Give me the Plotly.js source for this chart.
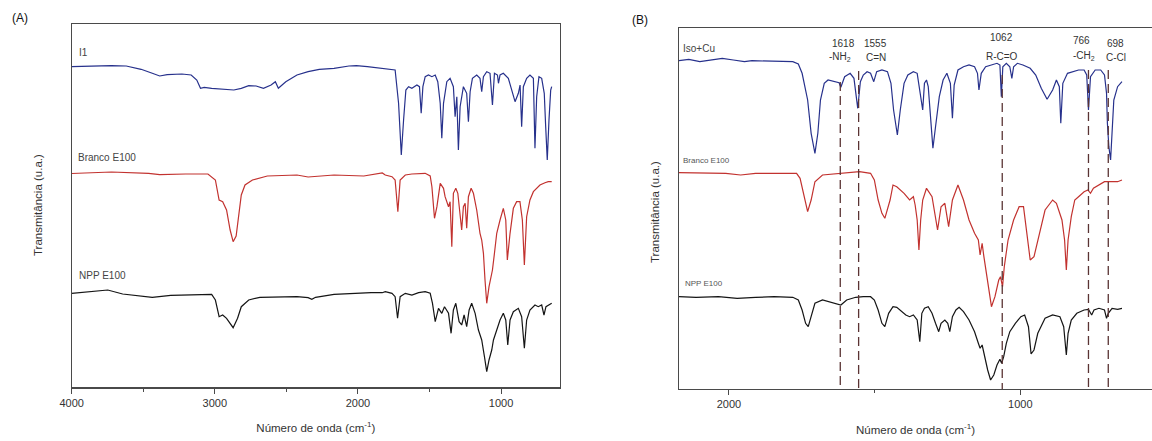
<!DOCTYPE html>
<html>
<head>
<meta charset="utf-8">
<script src="https://cdn.plot.ly/plotly-3.0.1.min.js"></script>
<style>
html,body{margin:0;padding:0;background:#fff;}
#chart{width:1152px;height:441px;}
</style>
</head>
<body>
<div id="chart"></div>
<script>
// ---------- Panel A (4000-600 cm-1) ----------
const wnA_I1 = [4000,3904,3722,3619,3515,3437,3385,3333,3230,3165,3126,3100,3074,3022,2945,2867,2815,2763,2711,2660,2607,2577,2556,2504,2426,2348,2270,2167,2063,2011,1934,1830,
  1809,1740,1716,1697,1681,1665,1646,1623,1588,1570,1558,1546,1530,1507,1483,1460,1442,1425,1414,1402,1379,1356,1333,1321,1309,1298,1286,1263,1240,1228,1216,1200,1170,1147,1135,1123,1100,1077,1060,1046,1025,1018,1007,984,949,925,902,879,867,856,844,821,798,774,763,751,735,716,698,688,677,665,653,646];
const tA_I1 = [320.6,321,321.6,321.3,318,314,311.3,312.6,313.3,312.3,307.3,299,300,299,298,297.3,299,301.6,301.3,299,302.3,305.6,299,305.6,312.3,315.6,318,319,321.3,321.6,320.6,319,
  318,317.3,284,232.3,267.3,297.3,300.6,299,302.3,300.6,274,300.6,310.6,312.3,310.6,312.3,305.6,284,249,284,305.6,309,300.6,270.6,290.6,237.3,280.6,300.6,294,265.6,295.6,309,312.3,309,295.6,310.6,315.6,314,282.3,314,312.3,304,312.3,314,309,295.6,285.6,294,302.3,260.6,300.6,309,312.3,309,239,290.6,310.6,309,294,260.6,227.3,267.3,297.3,300.6];

const wnA_Br = [4000,3722,3463,3385,3204,3048,2996,2970,2945,2918,2893,2872,2851,2833,2815,2789,2737,2633,2426,2348,2167,1959,1830,
  1809,1762,1740,1721,1705,1669,1623,1576,1530,1495,1483,1465,1448,1425,1402,1391,1367,1356,1344,1333,1316,1302,1286,1275,1263,1251,1240,1228,1209,1193,1170,1147,1135,1123,1112,1100,1084,1070,1060,1046,1030,1007,984,967,956,937,914,891,868,851,837,821,798,774,751,728,693,670,646];
const tA_Br = [213.8,215.3,213.9,212.6,213.3,213.3,207.3,187.3,185.6,177.3,157.3,145.6,151.3,174.3,192.3,202.3,207.3,211.3,212.3,210.3,212.3,211.3,214.3,
  212.3,210.6,207.3,175.6,207.3,212.3,213.3,214,214,211.3,200.6,169,180.6,204,199,190.6,180.6,185.6,140.6,194,199,194,167.3,157.3,180.6,184,159,190.6,199,194,177.3,154,147.3,134,107.3,84,100.6,110.6,117.3,134,154,167.3,179,167.3,127.3,154,179,185.6,185.6,167.3,122.3,170.6,187.3,195.6,199,202.3,204.6,205.6,205.6];

const wnA_NPP = [4000,3852,3748,3644,3541,3437,3308,3152,3022,2996,2970,2945,2918,2872,2841,2815,2763,2685,2426,2348,2322,2296,2167,1908,1830,
  1809,1762,1740,1723,1705,1669,1623,1576,1530,1495,1479,1460,1437,1414,1395,1367,1349,1333,1316,1293,1275,1258,1240,1223,1205,1181,1158,1135,1116,1100,1084,1065,1053,1030,1007,984,967,953,937,914,879,856,837,821,798,763,740,716,700,686,670,646];
const tA_NPP = [94,95.5,97.3,93.3,92,90,92,92.5,93,87.3,70.6,72.3,69,59.6,69,80.6,87.3,90,90.6,89.6,88,90,93,94.6,94.6,
  95.6,94,90.6,69,90.6,94,92.3,94.6,95.6,94,84,65.6,79,74,80.6,74,54,77.3,84,65.6,62.3,72.3,60.6,77.3,84,74,57.3,47.3,30.6,15.6,27.3,37.3,47.3,57.3,67.3,74,67.3,42.3,67.3,75.6,79,70.6,39,67.3,77.3,82.3,80.6,82.3,72.3,80.6,82.3,84];

// ---------- Panel B (2170-550 cm-1) ----------
const wnB_Iso = [2174,2138,2100,2062,2023,1985,1947,1921,1883,1832,1781,1762,1749,1730,1718,1705,1695,1686,1673,1660,1641,1622,1616,1603,1584,1571,1558,1549,1539,1526,1514,1503,1493,1475,1456,1444,1435,1422,1412,1399,1386,1367,1354,1342,1335,1329,1322,1316,1310,1300,1291,1278,1265,1252,1240,1233,1227,1214,1195,1176,1157,1147,1142,1134,1119,1099,1080,1070,1065,1060,1048,1036,1029,1023,1010,991,966,947,928,908,889,876,866,861,854,838,819,800,781,772,766,759,743,724,711,704,701,696,690,685,679,666,651];
const tB_Iso = [328.3,329.7,327.3,329,330.7,329,327.3,328.3,328,327.3,327.3,325,315.7,289,255.7,235.7,255.7,289,305.7,309,307.3,306.3,301.7,312.3,315.7,310.7,280.7,307.3,314,317.3,315.7,307.3,317.3,319,317.3,305.7,279,254,279,305.7,314,317.3,315.7,292.3,279,305.7,309,302.3,275.7,240.7,262.3,292.3,309,315.7,305.7,270.7,304,319,322.3,324,322.3,315.7,299,315.7,322.3,324,325.7,324,292.3,322.3,325.7,322.3,310.7,322.3,325.7,324,320.7,314,300.7,289.7,299,309,302.3,265.7,305.7,315.7,317.3,319,319,314,279,312.3,319,319,314,295.7,265.7,242.3,229,262.3,289,302.3,307.3];

const wnB_Br = [2174,2100,2011,1960,1909,1832,1768,1756,1743,1730,1718,1705,1679,1616,1552,1514,1501,1488,1475,1465,1456,1447,1437,1424,1399,1380,1367,1361,1354,1348,1342,1335,1322,1303,1284,1272,1259,1246,1233,1214,1195,1176,1157,1144,1138,1131,1125,1112,1099,1087,1074,1068,1061,1055,1042,1023,1004,989,978,966,953,940,915,889,876,857,848,842,836,825,813,800,781,768,759,749,730,711,685,666,651];
const tB_Br = [216.3,216.3,215.7,214,215.7,215.7,215.7,210.7,192.3,177.3,189,207.3,214,215.7,217.3,215.7,209,189,175.7,170.7,179,189,204,202.3,195.7,189,192.3,184,169,139,169,189,200.7,192.3,159,182.3,185.7,162.3,189,204,189,169,155.7,149,134,145.7,132.3,105.7,82.3,92.3,109,112.3,102.3,122.3,149,169,182.3,182.3,155.7,129,132.3,149,179,189,185.7,169,149,119,149,172.3,189,192.3,197.3,199,195.7,200.7,204,207.3,207.3,207.3,209];

const wnB_NPP = [2174,2113,2036,1972,1909,1845,1781,1762,1749,1737,1728,1718,1705,1679,1654,1628,1616,1596,1565,1539,1514,1501,1488,1475,1465,1452,1437,1424,1412,1393,1380,1367,1354,1345,1338,1329,1316,1303,1291,1280,1272,1259,1249,1242,1233,1221,1210,1195,1176,1157,1144,1138,1131,1125,1112,1102,1091,1080,1070,1064,1057,1048,1036,1017,998,985,972,963,953,940,915,889,864,851,842,836,825,806,781,766,755,747,730,711,704,698,685,666,651];
const tB_NPP = [92.3,91.7,92.3,90.7,91.7,92.3,91.7,89,79,65.7,62.3,72.3,85.7,89,87.3,85,84,89,91.7,92.3,92.3,89,79,65.7,62.3,75.7,82.3,81.7,79,74,72.3,74,69,47.3,75.7,80.7,82.3,75.7,65.7,57.3,65.7,69,65.7,57.3,72.3,79,81.7,77.3,69,57.3,45.7,40.7,44,35.7,19,9,14,24,29.7,25.7,32.3,45.7,57.3,65.7,72.3,74,62.3,35,39,55.7,70.7,74,72.3,62.3,34,55.7,69,75.7,79,79.7,74,79,80.7,79,70.7,75.7,80.7,79.7,80.7];

// Marked bands in panel B
const peakWn = [1618, 1555, 1062, 766, 698];
const peakTop = [307, 318, 314, 319, 319];
const peakNum = ['1618', '1555', '1062', '766', '698'];
const peakGroup = ['-NH<sub>2</sub>', 'C=N', 'R-C=O', '-CH<sub>2</sub>', 'C-Cl'];

// Tick labels
const tickA = [4000, 3000, 2000, 1000];
const tickB = [2000, 1000];

const blue = '#27318c', red = '#c2322f', black = '#151515';
const FONT = 'Liberation Sans, Arial, sans-serif';

function line(x, y, color, xa, ya) {
  return {x: x, y: y, type: 'scatter', mode: 'lines', xaxis: xa, yaxis: ya,
          line: {color: color, width: 1.2}, hoverinfo: 'skip', showlegend: false};
}

const data = [
  line(wnA_I1, tA_I1, blue, 'x', 'y'),
  line(wnA_Br, tA_Br, red, 'x', 'y'),
  line(wnA_NPP, tA_NPP, black, 'x', 'y'),
  line(wnB_Iso, tB_Iso, blue, 'x2', 'y2'),
  line(wnB_Br, tB_Br, red, 'x2', 'y2'),
  line(wnB_NPP, tB_NPP, black, 'x2', 'y2')
];

const axisCommon = {
  showgrid: false, zeroline: false, showline: true, linecolor: '#4a4a4a', linewidth: 1.2,
  ticks: 'outside', ticklen: 5, tickwidth: 1, tickcolor: '#4a4a4a',
  tickfont: {family: FONT, size: 11, color: '#333'},
  title: {text: 'Número de onda (cm<sup>-1</sup>)', font: {family: FONT, size: 11.5, color: '#333'}, standoff: 16},
  minor: {ticks: 'outside', ticklen: 3, dtick: 500, tick0: 0, tickcolor: '#4a4a4a'}
};
const yCommon = {
  showgrid: false, zeroline: false, showline: true, linecolor: '#4a4a4a', linewidth: 1.2,
  showticklabels: false, ticks: ''
};

const shapes = peakWn.map((w, i) => ({
  type: 'line', xref: 'x2', yref: 'y2', x0: w, x1: w, y0: peakTop[i], y1: 0,
  line: {color: '#5a3333', width: 1.3, dash: '9px,5px'}
}));

const annotations = [
  {text: '(A)', xref: 'paper', yref: 'paper', x: 10/1152, y: 1 - 18/441, xanchor: 'left', yanchor: 'middle', showarrow: false, font: {family: FONT, size: 12, color: '#111'}},
  {text: '(B)', xref: 'paper', yref: 'paper', x: 630/1152, y: 1 - 20/441, xanchor: 'left', yanchor: 'middle', showarrow: false, font: {family: FONT, size: 12, color: '#111'}},
  {text: 'I1', xref: 'paper', yref: 'paper', x: 77/1152, y: 1 - 52/441, xanchor: 'left', yanchor: 'middle', showarrow: false, font: {family: FONT, size: 10, color: '#444'}},
  {text: 'Branco E100', xref: 'paper', yref: 'paper', x: 76/1152, y: 1 - 157/441, xanchor: 'left', yanchor: 'middle', showarrow: false, font: {family: FONT, size: 10, color: '#444'}},
  {text: 'NPP E100', xref: 'paper', yref: 'paper', x: 77/1152, y: 1 - 275/441, xanchor: 'left', yanchor: 'middle', showarrow: false, font: {family: FONT, size: 10, color: '#444'}},
  {text: 'Iso+Cu', xref: 'paper', yref: 'paper', x: 681/1152, y: 1 - 48/441, xanchor: 'left', yanchor: 'middle', showarrow: false, font: {family: FONT, size: 10, color: '#444'}},
  {text: 'Branco E100', xref: 'paper', yref: 'paper', x: 681/1152, y: 1 - 160/441, xanchor: 'left', yanchor: 'middle', showarrow: false, font: {family: FONT, size: 8, color: '#555'}},
  {text: 'NPP E100', xref: 'paper', yref: 'paper', x: 683/1152, y: 1 - 283/441, xanchor: 'left', yanchor: 'middle', showarrow: false, font: {family: FONT, size: 8, color: '#555'}},
  {text: 'Transmitância (u.a.)', xref: 'paper', yref: 'paper', x: 38/1152, y: 1 - 205/441, textangle: -90, xanchor: 'center', yanchor: 'middle', showarrow: false, font: {family: FONT, size: 11.5, color: '#333'}},
  {text: 'Transmitância (u.a.)', xref: 'paper', yref: 'paper', x: 655/1152, y: 1 - 212/441, textangle: -90, xanchor: 'center', yanchor: 'middle', showarrow: false, font: {family: FONT, size: 11.5, color: '#333'}}
];
const numY = [43, 43, 38, 40, 43];
const grpY = [57, 57, 56, 56, 57];
const numShift = [3, 17, -1, -7, 7];
const grpShift = [0, 17, 0, -4, 8];
peakWn.forEach((w, i) => {
  annotations.push({text: peakNum[i], xref: 'x2', yref: 'paper', x: w, xshift: numShift[i], y: 1 - numY[i]/441,
    xanchor: 'center', yanchor: 'middle', showarrow: false, font: {family: FONT, size: 10, color: '#333'}});
  annotations.push({text: peakGroup[i], xref: 'x2', yref: 'paper', x: w, xshift: grpShift[i], y: 1 - grpY[i]/441,
    xanchor: 'center', yanchor: 'middle', showarrow: false, font: {family: FONT, size: 10, color: '#333'}});
});

const layout = {
  width: 1152, height: 441,
  margin: {l: 0, r: 0, t: 0, b: 0},
  paper_bgcolor: '#fff', plot_bgcolor: '#fff',
  showlegend: false,
  xaxis: Object.assign({}, axisCommon, {domain: [71.7/1152, 560/1152], range: [4000, 588], tickvals: tickA, anchor: 'y', mirror: true}),
  yaxis: Object.assign({}, yCommon, {domain: [1 - 387.3/441, 1 - 24.3/441], range: [0, 363], anchor: 'x', mirror: true}),
  xaxis2: Object.assign({}, axisCommon, {domain: [679/1152, 1], range: [2171.6, 547.9], tickvals: tickB, anchor: 'y2', mirror: true}),
  yaxis2: Object.assign({}, yCommon, {domain: [1 - 389/441, 1 - 28.3/441], range: [0, 360.7], anchor: 'x2', mirror: false}),
  shapes: shapes,
  annotations: annotations
};

Plotly.newPlot('chart', data, layout, {staticPlot: true, displayModeBar: false});
</script>
</body>
</html>
